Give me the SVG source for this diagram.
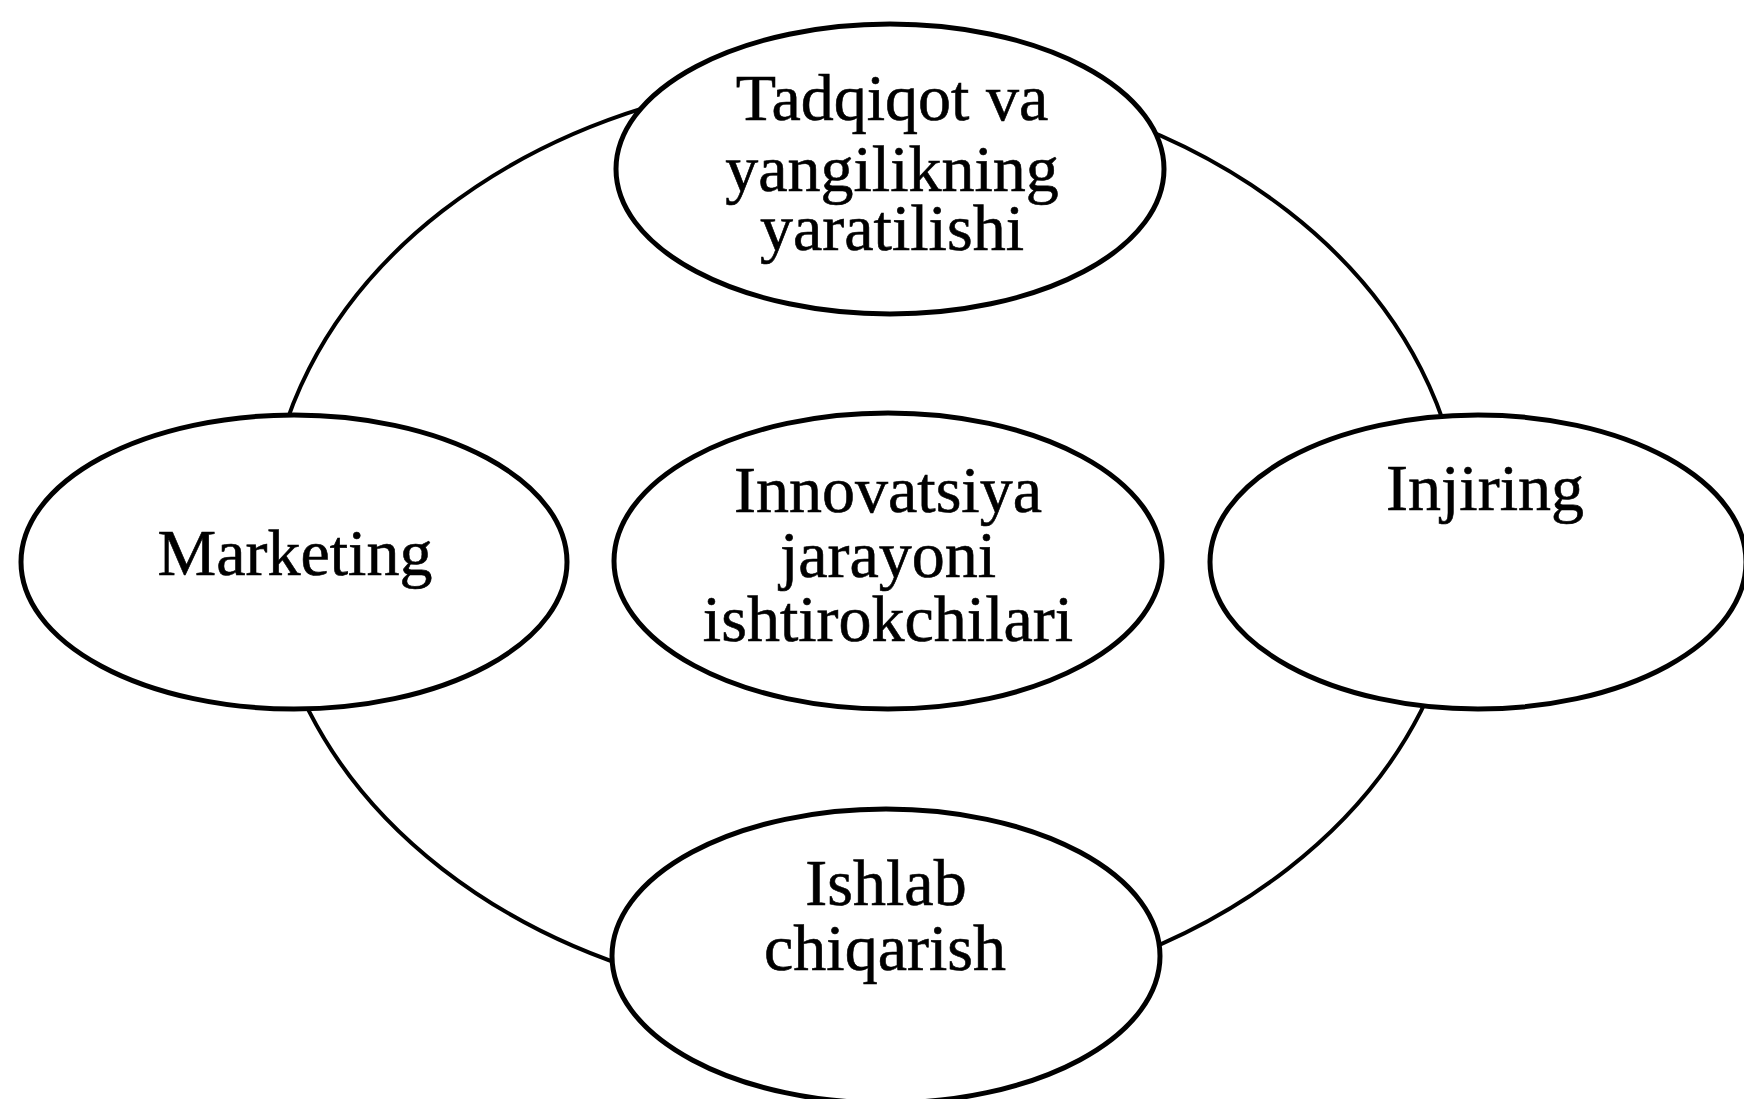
<svg xmlns="http://www.w3.org/2000/svg" width="1744" height="1099" viewBox="0 0 1744 1099">
<style>
.node{fill:#fff;stroke:#000;stroke-width:5}
.ring{fill:none;stroke:#000;stroke-width:4}
.lbl{font-family:"Liberation Serif","Times New Roman",serif;font-size:66px;fill:#000;stroke:#000;stroke-width:0.6;text-anchor:middle}
</style>
<rect width="1744" height="1099" fill="#fff"/>
<g id="connectors">
<ellipse class="ring" cx="865" cy="540" rx="598" ry="465"/>
</g>
<g id="node-tadqiqot">
<ellipse class="node" cx="890" cy="169" rx="274" ry="145"/>
<text class="lbl" x="892" y="120">Tadqiqot va</text>
<text class="lbl" x="892" y="191">yangilikning</text>
<text class="lbl" x="892" y="250">yaratilishi</text>
</g>
<g id="node-marketing">
<ellipse class="node" cx="294" cy="562" rx="273" ry="147"/>
<text class="lbl" x="295" y="575">Marketing</text>
</g>
<g id="node-center">
<ellipse class="node" cx="888" cy="561" rx="274" ry="148"/>
<text class="lbl" x="888" y="512">Innovatsiya</text>
<text class="lbl" x="888" y="577">jarayoni</text>
<text class="lbl" x="888" y="641">ishtirokchilari</text>
</g>
<g id="node-injiring">
<ellipse class="node" cx="1478" cy="562" rx="268" ry="147"/>
<text class="lbl" x="1485" y="510">Injiring</text>
</g>
<g id="node-ishlab">
<ellipse class="node" cx="886" cy="956" rx="274" ry="147"/>
<text class="lbl" x="886" y="905">Ishlab</text>
<text class="lbl" x="885" y="970">chiqarish</text>
</g>
</svg>
